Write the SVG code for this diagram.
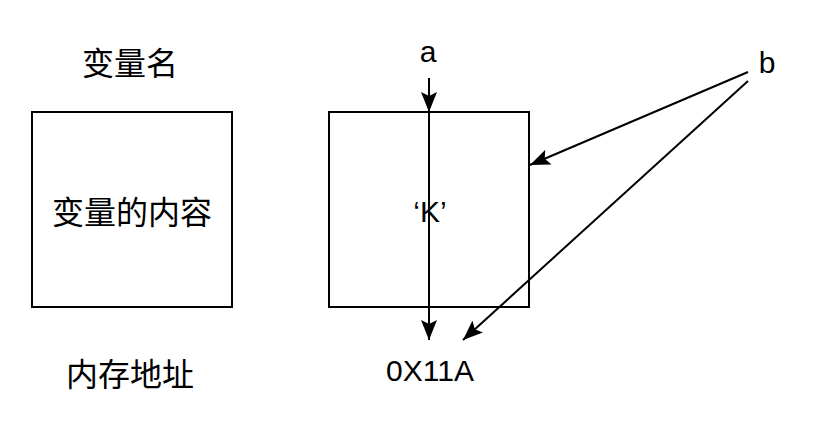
<svg xmlns="http://www.w3.org/2000/svg" width="840" height="430" viewBox="0 0 840 430">
<style>
.box{fill:#fff;stroke:#000;stroke-width:2}
.cjk{font-family:"Liberation Sans","Noto Sans CJK SC",sans-serif;font-size:32px;fill:#000;text-anchor:middle}
.lat{font-family:"Liberation Sans","Noto Sans CJK SC",sans-serif;font-size:30px;fill:#000;text-anchor:middle}
.con{fill:none;stroke:#000;stroke-width:2}
</style>
<defs>
<marker id="ah" markerWidth="20" markerHeight="16" viewBox="0 0 20 16" refX="20" refY="8" orient="auto" markerUnits="userSpaceOnUse">
<path d="M0,0 L20,8 L0,16 L4,8 Z" fill="#000"/>
</marker>
</defs>
<rect width="840" height="430" fill="#fff"/>
<g id="var-name-label"><text class="cjk" x="130" y="75">变量名</text></g>
<g id="var-box"><rect class="box" x="32" y="112" width="200" height="195"/><text class="cjk" x="132" y="224">变量的内容</text></g>
<g id="addr-label"><text class="cjk" x="130" y="386">内存地址</text></g>
<g id="k-box"><rect class="box" x="329" y="112" width="200" height="195"/><text class="lat" x="430" y="222">‘K’</text></g>
<g id="label-a"><text class="lat" x="428" y="62">a</text></g>
<g id="label-b"><text class="lat" x="767" y="73">b</text></g>
<g id="addr-value"><text class="lat" x="430" y="381">0X11A</text></g>
<g id="connectors">
<path class="con" d="M429,78 L429,112" marker-end="url(#ah)"/>
<path class="con" d="M429,112 L429,340" marker-end="url(#ah)"/>
<path class="con" d="M748,72 L530,165" marker-end="url(#ah)"/>
<path class="con" d="M748,81 L463,340" marker-end="url(#ah)"/>
</g>
</svg>
